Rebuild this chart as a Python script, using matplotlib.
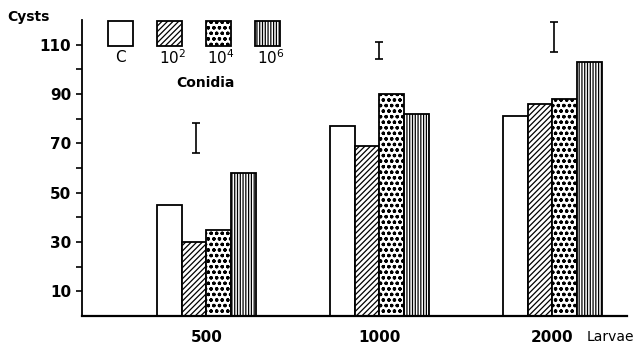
import numpy as np
import matplotlib.pyplot as plt
from matplotlib.patches import Rectangle

plt.rcParams['font.family'] = ['DejaVu Sans']
plt.rcParams['hatch.linewidth'] = 0.9

larvae = ["500", "1000", "2000"]
conidia = ["C", "10$^2$", "10$^4$", "10$^6$"]
cysts = {
    "C": [45, 77, 81],
    "10$^2$": [30, 69, 86],
    "10$^4$": [35, 90, 88],
    "10$^6$": [58, 82, 103],
}
# LSD bars drawn above each group: x position, low, high
lsd_x = [0.94, 2.0, 3.01]
lsd_lo = [66, 104, 107]
lsd_hi = [78, 111, 119]

hatches = ["", "//////", "ooo", "||||||"]

fig = plt.figure(figsize=(6.39, 3.49), dpi=100)
ax = fig.add_axes([0.128, 0.095, 0.853, 0.848])

x = np.arange(1, len(larvae) + 1)
w = 0.143
for i, c in enumerate(conidia):
    ax.bar(x + (i - 1.5) * w, cysts[c], width=w, color="white", edgecolor="black",
           hatch=hatches[i], linewidth=1.3)

for xi, lo, hi in zip(lsd_x, lsd_lo, lsd_hi):
    ax.errorbar([xi], [(lo + hi) / 2], yerr=[[(hi - lo) / 2]], fmt="none",
                ecolor="black", elinewidth=1.2, capsize=3, capthick=1.2)

ax.set_xlim(0.28, 3.43)
ax.set_ylim(0, 120)
ax.set_yticks(np.arange(10, 111, 20))
ax.set_yticks(np.arange(20, 101, 20), minor=True)
ax.set_xticks(x)
ax.set_xticklabels(larvae)
ax.tick_params(axis="x", length=0, pad=10, labelsize=11)
ax.tick_params(axis="y", which="both", direction="out", length=4, width=1.2, labelsize=11)
for lab in ax.get_xticklabels() + ax.get_yticklabels():
    lab.set_fontweight("semibold")
ax.spines["top"].set_visible(False)
ax.spines["right"].set_visible(False)
ax.spines["left"].set_linewidth(1.3)
ax.spines["bottom"].set_linewidth(1.6)

# legend drawn by hand: boxes with labels underneath
for i, c in enumerate(conidia):
    x0 = 0.048 + i * 0.09
    ax.add_patch(Rectangle((x0, 0.912), 0.046, 0.085, transform=ax.transAxes,
                           facecolor="white", edgecolor="black", hatch=hatches[i],
                           linewidth=1.3, clip_on=False))
    ax.text(x0 + 0.023 + (0.005 if i else 0), 0.872, c, transform=ax.transAxes,
            ha="center", va="center", fontsize=11)
ax.text(0.226, 0.787, "Conidia", transform=ax.transAxes, ha="center", va="center",
        fontsize=10, fontweight="bold")

fig.text(0.045, 0.952, "Cysts", ha="center", va="center", fontsize=10, fontweight="bold")
fig.text(0.955, 0.035, "Larvae", ha="center", va="center", fontsize=10)

fig.savefig("out.png", dpi=100)
